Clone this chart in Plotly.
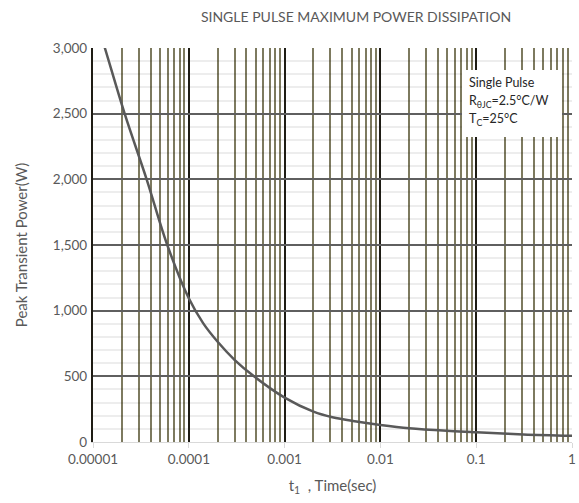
import plotly.graph_objects as go

# Data (time in seconds, power in W)
time_s = [1.07e-5, 1.33e-5, 2.14e-5, 3.63e-5, 5.96e-5, 1.0e-4, 1.41e-4,
          2.0e-4, 3.02e-4, 4.79e-4, 1.0e-3, 2.0e-3, 3.16e-3, 5.62e-3,
          1.0e-2, 2.0e-2, 5.37e-2, 1.0e-1, 3.1e-1, 1.0]
power_w = [3224, 3000, 2500, 2000, 1500, 1094, 905,
           763, 624, 500, 338, 231, 188, 156,
           130, 105, 84, 74, 58, 48]

y_ticks = [0, 500, 1000, 1500, 2000, 2500, 3000]
y_tick_labels = ["0", "500", "1,000", "1,500", "2,000", "2,500", "3,000"]
x_ticks = [1e-5, 1e-4, 1e-3, 1e-2, 1e-1, 1]
x_tick_labels = ["0.00001", "0.0001", "0.001", "0.01", "0.1", "1"]

FONT = "Lato"
TXT = "#595959"

fig = go.Figure()
fig.add_trace(go.Scatter(
    x=time_s, y=power_w, mode="lines",
    line=dict(color="#595959", width=2.5, shape="spline", smoothing=1.0),
    hoverinfo="skip", showlegend=False,
))

fig.update_layout(
    width=579, height=503,
    margin=dict(l=93, r=7, t=48, b=61),
    paper_bgcolor="white", plot_bgcolor="white",
    font=dict(family=FONT, size=13, color=TXT),
    title=dict(text="SINGLE PULSE MAXIMUM POWER DISSIPATION",
               x=356 / 579, xanchor="center", y=1 - 17 / 503, yanchor="middle",
               font=dict(family=FONT, size=14, color=TXT)),
    showlegend=False,
)

fig.update_xaxes(
    type="log", range=[-5, 0], automargin=False,
    tickvals=x_ticks, ticktext=x_tick_labels,
    showgrid=True, gridcolor="#1e1c14", gridwidth=2.2,
    minor=dict(showgrid=True, gridcolor="#7d7a5f", gridwidth=1.7,
               ticks="", dtick="D1"),
    showline=True, linecolor="#d9d9d9", linewidth=1.3,
    ticks="outside", ticklen=5, tickcolor="#d9d9d9",
    tickfont=dict(family=FONT, size=13.5, color=TXT),
    title=dict(text="t<sub>1</sub>  , Time(sec)", standoff=14,
               font=dict(family=FONT, size=15, color=TXT)),
    zeroline=False,
)

fig.update_yaxes(
    range=[0, 3000], automargin=False,
    tickvals=y_ticks, ticktext=y_tick_labels,
    showgrid=True, gridcolor="#5f5f5f", gridwidth=1.8,
    minor=dict(showgrid=True, gridcolor="rgba(0,0,0,0.07)", gridwidth=1.6, dtick=100),
    zeroline=True, zerolinecolor="#d9d9d9", zerolinewidth=1.3,
    showline=True, linecolor="#1e1c14", linewidth=2.2,
    ticks="",
    ticklabelstandoff=1,
    tickfont=dict(family=FONT, size=13.5, color=TXT),
    title=dict(text="Peak Transient Power(W)", standoff=22,
               font=dict(family=FONT, size=15, color=TXT)),
)

fig.add_shape(type="rect", xref="paper", yref="paper",
              x0=(462 - 93) / 479, x1=(562 - 93) / 479,
              y0=(442 - 137) / 394, y1=(442 - 70) / 394,
              fillcolor="white", line=dict(width=0), layer="above")

legend_lines = ["Single Pulse", "R<sub>θJC</sub>=2.5°C/W", "T<sub>C</sub>=25°C"]
legend_y = [82, 101, 119]
for txt, yy in zip(legend_lines, legend_y):
    fig.add_annotation(text=txt, xref="paper", yref="paper",
                       x=(467 - 93) / 479, y=(442 - yy) / 394,
                       xanchor="left", yanchor="middle", showarrow=False,
                       font=dict(family=FONT, size=12.5, color="#262626"))

fig.write_html("out.html")
